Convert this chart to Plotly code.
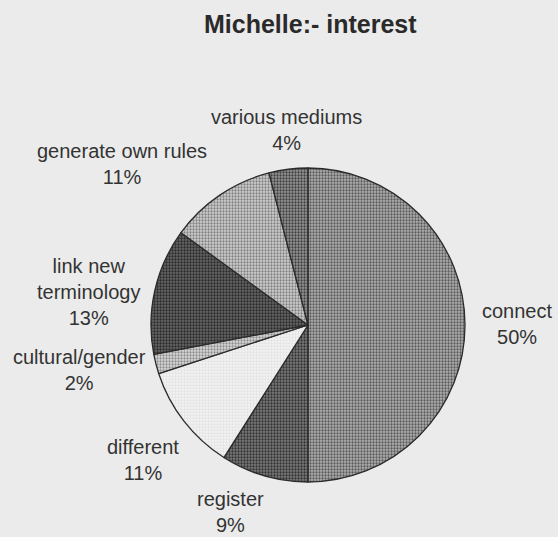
import plotly.graph_objects as go

# Share of interest by theme (percent), clockwise from 12 o'clock
categories = ["connect", "register", "different", "cultural/gender",
              "link new terminology", "generate own rules", "various mediums"]
values = [50, 9, 11, 2, 13, 11, 4]

# Label text lines for each slice (category names wrapped as printed)
label_lines = ["connect", "register", "different", "cultural/gender",
               "link new<br>terminology", "generate own rules", "various mediums"]

title_text = "Michelle:- interest"

# ---- styling -------------------------------------------------------------
W, H = 558, 537
BG = "#ebebeb"
TEXT = "#333333"
FONT = "Liberation Sans, Arial, sans-serif"

# halftone-like fills: (dot colour, base colour)
fills = [
    ("#5a5a5a", "#b0b0b0"),  # connect
    ("#333333", "#7a7a7a"),  # register
    ("#e2e2e2", "#f4f4f4"),  # different
    ("#8c8c8c", "#dadada"),  # cultural/gender
    ("#2a2a2a", "#666666"),  # link new terminology
    ("#808080", "#d0d0d0"),  # generate own rules
    ("#404040", "#959595"),  # various mediums
]

# pie placement in pixels
cx, cy, r = 308, 325, 157

# label block centres in pixels (x, y)
label_pos = [
    (517, 324), (230, 512), (143, 460), (79, 370),
    (88, 292), (122, 164), (286, 130),
]

total = sum(values)
pcts = [round(v / total * 100) for v in values]

fig = go.Figure(
    go.Pie(
        labels=categories,
        values=values,
        sort=False,
        direction="clockwise",
        rotation=0,
        textinfo="none",
        hoverinfo="label+percent",
        showlegend=False,
        marker=dict(
            colors=[b for _, b in fills],
            line=dict(color="#2b2b2b", width=1.3),
            pattern=dict(
                shape=["."] * len(values),
                fgcolor=[f for f, _ in fills],
                bgcolor=[b for _, b in fills],
                size=3,
                solidity=0.45,
                fillmode="replace",
            ),
        ),
        domain=dict(
            x=[(cx - r) / W, (cx + r) / W],
            y=[1 - (cy + r) / H, 1 - (cy - r) / H],
        ),
    )
)

annotations = [
    dict(
        text=title_text, x=310 / W, y=1 - 24 / H, xref="paper", yref="paper",
        xanchor="center", yanchor="middle", showarrow=False,
        font=dict(family=FONT, size=25, color="#2a2a2a", weight="bold"),
    )
]
for lines, p, (lx, ly) in zip(label_lines, pcts, label_pos):
    annotations.append(dict(
        text=f"{lines}<br>{p}%", x=lx / W, y=1 - ly / H,
        xref="paper", yref="paper", xanchor="center", yanchor="middle",
        align="center", showarrow=False,
        font=dict(family=FONT, size=20, color=TEXT),
    ))

fig.update_layout(
    width=W, height=H,
    margin=dict(l=0, r=0, t=0, b=0),
    paper_bgcolor=BG, plot_bgcolor=BG,
    annotations=annotations,
    font=dict(family=FONT, color=TEXT),
)

fig.write_html("out.html")
